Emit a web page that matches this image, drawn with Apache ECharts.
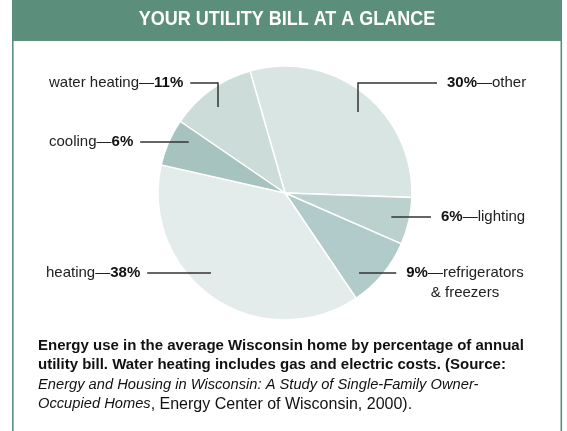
<!DOCTYPE html>
<html>
<head>
    <meta charset="UTF-8">
    <title>Your utility bill at a glance</title>
    <script src="https://cdn.jsdelivr.net/npm/echarts@6/dist/echarts.min.js"></script>
    <style>
        html, body { margin: 0; padding: 0; background: #fff; }
        #chart { width: 567px; height: 431px; }
    </style>
</head>
<body>
    <div id="chart"></div>
    <script>
        // data, clockwise from the top
        var categories = ['other', 'lighting', 'refrigerators & freezers', 'heating', 'cooling', 'water heating'];
        var shares = [30, 6, 9, 38, 6, 11];

        var green = '#5b8f7c';
        var sliceColors = ['#d9e5e3', '#bad1ce', '#b0cbc9', '#e3ecea', '#a6c3c0', '#cbdcd9'];
        var fam = '"Liberation Sans", Arial, sans-serif';
        var labelSize = 15;

        // pie geometry
        var cx = 285, cy = 193, R = 127;
        var leadR = 109; // leader lines end on this radius, inside the slices

        // label placement (text anchor, leader y, optional elbow)
        var labelPos = {
            'other': { x: 447, y: 83, align: 'left', elbowX: 358 },
            'lighting': { x: 441, y: 217, align: 'left' },
            'refrigerators & freezers': { x: 465, y: 283, lineY: 273, align: 'center' },
            'heating': { x: 46, y: 273, align: 'left' },
            'cooling': { x: 49, y: 142, align: 'left' },
            'water heating': { x: 49, y: 83, align: 'left', elbowX: 218 }
        };

        function labelParts(name, value) {
            var pct = value + '%';
            if (labelPos[name].x > cx) {
                if (name === 'refrigerators & freezers') {
                    return [[pct, '—refrigerators'], ['', '& freezers']];
                }
                return [[pct, '—' + name]];
            }
            return [[name + '—', pct]];
        }

        function labelText(name, value) {
            var right = labelPos[name].x > cx;
            return labelParts(name, value).map(function (l) {
                var s = '';
                if (right) {
                    if (l[0]) s += '{b|' + l[0] + '}';
                    s += '{n|' + l[1] + '}';
                } else {
                    s += '{n|' + l[0] + '}{b|' + l[1] + '}';
                }
                return s;
            }).join('\n');
        }

        var ctx = document.createElement('canvas').getContext('2d');
        function textWidth(name, value) {
            var right = labelPos[name].x > cx;
            var w = 0;
            labelParts(name, value).forEach(function (l) {
                ctx.font = (right ? 'bold ' : '') + labelSize + 'px ' + fam;
                var a = ctx.measureText(l[0]).width;
                ctx.font = (right ? '' : 'bold ') + labelSize + 'px ' + fam;
                var b = ctx.measureText(l[1]).width;
                w = Math.max(w, a + b);
            });
            return w;
        }

        function leaderPoints(i) {
            var name = categories[i];
            var pos = labelPos[name];
            var w = textWidth(name, shares[i]);
            var ly = pos.lineY != null ? pos.lineY : pos.y;
            var right = pos.x > cx;
            var sx;
            if (!right) {
                sx = pos.x + w + 7;
            } else if (pos.align === 'center') {
                sx = pos.x - w / 2 - 10;
            } else {
                sx = pos.x - 10;
            }
            if (pos.elbowX != null) {
                var dx = pos.elbowX - cx;
                var ey = cy - Math.sqrt(leadR * leadR - dx * dx);
                return [[sx, ly], [pos.elbowX, ly], [pos.elbowX, ey]];
            }
            var dy = ly - cy;
            var ex = cx + (right ? 1 : -1) * Math.sqrt(leadR * leadR - dy * dy);
            return [[sx, ly], [ex, ly]];
        }

        var myChart = echarts.init(document.getElementById('chart'), null, { renderer: 'canvas' });

        var option = {
            animation: false,
            graphic: [
                { type: 'rect', shape: { x: 12, y: 0, width: 550, height: 41 }, style: { fill: green } },
                { type: 'rect', shape: { x: 12, y: 41, width: 1.6, height: 390 }, style: { fill: green } },
                { type: 'rect', shape: { x: 560.5, y: 41, width: 1.6, height: 390 }, style: { fill: green } },
                {
                    type: 'text', x: 287, y: 20, scaleY: 1.1,
                    style: {
                        text: 'YOUR UTILITY BILL AT A GLANCE',
                        fill: '#fff', font: 'bold 18px ' + fam,
                        align: 'center', verticalAlign: 'middle'
                    }
                },
                {
                    type: 'text', x: 38, y: 336,
                    style: {
                        text: '{b|Energy use in the average Wisconsin home by percentage of annual}\n' +
                            '{b|utility bill. Water heating includes gas and electric costs. (Source:}\n' +
                            '{i|Energy and Housing in Wisconsin: A Study of Single-Family Owner-}\n' +
                            '{i|Occupied Homes}{r|, Energy Center of Wisconsin, 2000).}',
                        fill: '#111',
                        rich: {
                            b: { font: 'bold 15px ' + fam, lineHeight: 19.5 },
                            i: { font: 'italic 14.7px ' + fam, lineHeight: 19.5 },
                            r: { font: '16px ' + fam, lineHeight: 19.5 }
                        }
                    }
                }
            ],
            series: [{
                type: 'pie',
                z: 2,
                center: [cx, cy],
                radius: R,
                startAngle: 106,
                clockwise: true,
                silent: true,
                avoidLabelOverlap: false,
                color: sliceColors,
                itemStyle: { borderColor: '#fff', borderWidth: 1.5 },
                emphasis: { disabled: true },
                label: {
                    show: true,
                    position: 'outside',
                    formatter: function (p) { return labelText(p.name, p.value); },
                    color: '#222',
                    rich: {
                        n: { fontFamily: fam, fontSize: labelSize, color: '#222', lineHeight: 20 },
                        b: { fontFamily: fam, fontSize: labelSize, fontWeight: 'bold', color: '#111', lineHeight: 20 }
                    }
                },
                labelLine: { show: false },
                labelLayout: function (params) {
                    var pos = labelPos[categories[params.dataIndex]];
                    return { x: pos.x, y: pos.y, align: pos.align, verticalAlign: 'middle' };
                },
                data: categories.map(function (c, i) {
                    return { name: c, value: shares[i] };
                })
            }, {
                // leader lines drawn above the slices
                type: 'custom',
                coordinateSystem: 'none',
                z: 5,
                silent: true,
                data: categories.map(function (c, i) { return i; }),
                renderItem: function (params, api) {
                    return {
                        type: 'polyline',
                        shape: { points: leaderPoints(params.dataIndex) },
                        style: { stroke: '#333', lineWidth: 1.5, fill: null }
                    };
                }
            }]
        };

        myChart.setOption(option);
    </script>
</body>
</html>
